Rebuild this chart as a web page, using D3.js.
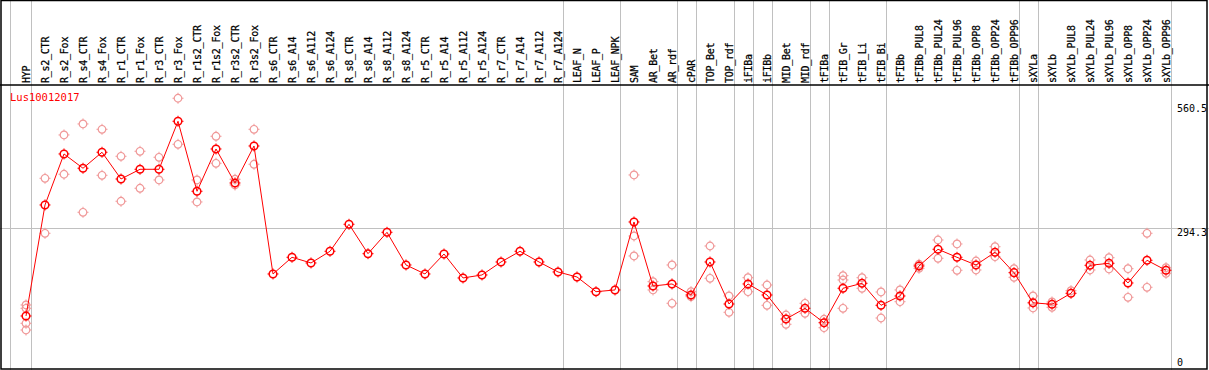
<!DOCTYPE html>
<html>
<head>
<meta charset="utf-8">
<script src="https://cdn.jsdelivr.net/npm/d3@7"></script>
<style>
  body { margin: 0; background: #fff; }
  text { font-family: "DejaVu Sans Mono", monospace; }
</style>
</head>
<body>
<div id="chart"></div>
<script>
var categories = ["HYP","R_s2_CTR","R_s2_Fox","R_s4_CTR","R_s4_Fox","R_r1_CTR","R_r1_Fox","R_r3_CTR","R_r3_Fox",
  "R_r1s2_CTR","R_r1s2_Fox","R_r3s2_CTR","R_r3s2_Fox","R_s6_CTR","R_s6_A14","R_s6_A112","R_s6_A124",
  "R_s8_CTR","R_s8_A14","R_s8_A112","R_s8_A124","R_r5_CTR","R_r5_A14","R_r5_A112","R_r5_A124",
  "R_r7_CTR","R_r7_A14","R_r7_A112","R_r7_A124","LEAF_N","LEAF_P","LEAF_NPK","SAM","AR_Bet","AR_rdf",
  "cPAR","TOP_Bet","TOP_rdf","iFIBa","iFIBb","MID_Bet","MID_rdf","tFIBa","tFIB_Gr","tFIB_Li","tFIB_Bi",
  "tFIBb","tFIBb_PUL8","tFIBb_PUL24","tFIBb_PUL96","tFIBb_OPP8","tFIBb_OPP24","tFIBb_OPP96",
  "sXYLa","sXYLb","sXYLb_PUL8","sXYLb_PUL24","sXYLb_PUL96","sXYLb_OPP8","sXYLb_OPP24","sXYLb_OPP96"];

var means = [107.3,344.1,452.9,422.4,456.5,399.5,420.2,420.2,522.6,
  373.3,463.5,391.0,469.9,196.9,232.5,220.4,245.3,
  302.9,240.2,285.8,216.1,196.9,239.5,188.4,194.8,
  222.5,245.3,222.5,201.2,190.5,159.1,162.8,307.8,171.3,175.6,
  152.1,222.5,132.9,175.6,152.1,100.9,123.7,93.0,166.4,177.0,130.1,
  150.0,214.0,249.6,232.5,216.1,243.2,199.7,
  135.4,132.3,155.7,215.4,219.7,177.7,226.1,204.8];

var replicates = [
  [130.8,123.7,91.7,77.4],[401.0,283.7],[493.4,409.6],[516.9,328.5],[505.5,407.4],[447.9,352.0],[458.6,379.7],[445.8,397.4],[571.7,473.5],
  [397.4,350.5],[490.6,433.0],[398.9,386.7],[505.5,430.9],[],[],[],[],
  [],[],[],[],[],[],[],[],
  [],[],[],[],[],[],[],[408.1,277.9,235.3],[180.5,162.8],[216.1,134.4],
  [159.1,148.5],[256.6,187.7],[150.0,115.2],[189.0,159.1],[173.4,130.1],[109.4,89.6],[134.4,113.1],[100.3,82.3],[193.3,184.1,123.7],[189.0,166.4],[158.5,103.0],
  [162.8,137.8],[217.6,209.0],[269.4,230.4],[260.9,204.8],[224.6,205.4],[255.1,233.8],[208.2,189.8],
  [150.0,124.4],[137.2,125.9],[161.3],[226.7,205.4],[231.7,207.6],[208.2,147.2],[283.7,168.5],[210.3,198.4]];

var yTicks = [0, 294.3, 560.5];
var gridValue = 294.3;
var groupEnds = ["HYP","R_r7_A124","LEAF_NPK","AR_rdf","cPAR","TOP_rdf","iFIBa","iFIBb","MID_rdf","tFIBa","tFIB_Bi","tFIBb_OPP96","sXYLa","sXYLb_OPP96"];
var geneName = "Lus10012017";

var width = 1209,
    height = 370,
    headerH = 85;

var svg = d3.select('#chart').append('svg')
  .attr('width', width)
  .attr('height', height);

var xScale = d3.scalePoint()
  .domain(categories)
  .range([26, 1166]);

var yScale = d3.scaleLinear()
  .domain([0, 560.5])
  .range([366.3, 103.5]);

// grid lines
svg.append('line')
  .attr('x1', 10.5).attr('x2', 10.5)
  .attr('y1', 0).attr('y2', height)
  .attr('stroke', '#c0c0c0');

svg.selectAll('.vsep').data(groupEnds)
  .enter().append('line')
    .attr('class', 'vsep')
    .attr('x1', function(d) { return Math.round(xScale(d) + 4.5) + 0.5; })
    .attr('x2', function(d) { return Math.round(xScale(d) + 4.5) + 0.5; })
    .attr('y1', 0).attr('y2', height)
    .attr('stroke', '#c0c0c0');

svg.append('line')
  .attr('x1', 0).attr('x2', width)
  .attr('y1', Math.round(yScale(gridValue)) + 0.5)
  .attr('y2', Math.round(yScale(gridValue)) + 0.5)
  .attr('stroke', '#c0c0c0');

// frame
svg.append('rect')
  .attr('x', 1).attr('y', 0.5)
  .attr('width', width - 3).attr('height', height - 1.5)
  .attr('fill', 'none')
  .attr('stroke', '#000')
  .attr('stroke-width', 1.5);

svg.append('line')
  .attr('x1', 0).attr('x2', width)
  .attr('y1', headerH).attr('y2', headerH)
  .attr('stroke', '#000')
  .attr('stroke-width', 1.5);

// header labels
svg.selectAll('.cat').data(categories)
  .enter().append('text')
    .attr('class', 'cat')
    .attr('transform', function(d) {
      return 'translate(' + (xScale(d) + 3.5) + ',' + (headerH - 2) + ') rotate(-90)';
    })
    .attr('font-size', '10px')
    .attr('letter-spacing', '-0.25px')
    .attr('fill', '#000')
    .attr('stroke', '#000')
    .attr('stroke-width', 0.25)
    .text(function(d) { return d; });

// y labels
svg.selectAll('.ylab').data(yTicks)
  .enter().append('text')
    .attr('class', 'ylab')
    .attr('x', 1177)
    .attr('y', function(d) { return Math.min(yScale(d) + 8, 366); })
    .attr('font-size', '10px')
    .attr('fill', '#000')
    .text(function(d) { return d; });

svg.append('text')
  .attr('x', 10)
  .attr('y', 101)
  .attr('font-size', '10.5px')
  .attr('fill', '#ff0000')
  .text(geneName);

function marker(g, color, sw) {
  g.append('circle')
    .attr('r', 3.8)
    .attr('fill', 'none')
    .attr('stroke', color)
    .attr('stroke-width', sw);
  g.append('path')
    .attr('d', 'M0,-5.5V-3.5M0,3.5V5.5M-5.5,0H-3.5M3.5,0H5.5')
    .attr('stroke', color)
    .attr('stroke-width', 1);
}

// replicate points
var repData = [];
categories.forEach(function(c, i) {
  replicates[i].forEach(function(v) { repData.push({ c: c, v: v }); });
});

svg.selectAll('.rep').data(repData)
  .enter().append('g')
    .attr('class', 'rep')
    .attr('transform', function(d) {
      return 'translate(' + xScale(d.c) + ',' + yScale(d.v) + ')';
    })
    .each(function() { marker(d3.select(this), '#f09999', 1.2); });

// mean line
var line = d3.line()
  .x(function(d, i) { return xScale(categories[i]); })
  .y(function(d) { return yScale(d); });

svg.append('path')
  .datum(means)
  .attr('d', line)
  .attr('fill', 'none')
  .attr('stroke', '#ff0000')
  .attr('stroke-width', 1);

svg.selectAll('.mean').data(means)
  .enter().append('g')
    .attr('class', 'mean')
    .attr('transform', function(d, i) {
      return 'translate(' + xScale(categories[i]) + ',' + yScale(d) + ')';
    })
    .each(function() { marker(d3.select(this), '#ff0000', 1.5); });
</script>
</body>
</html>
